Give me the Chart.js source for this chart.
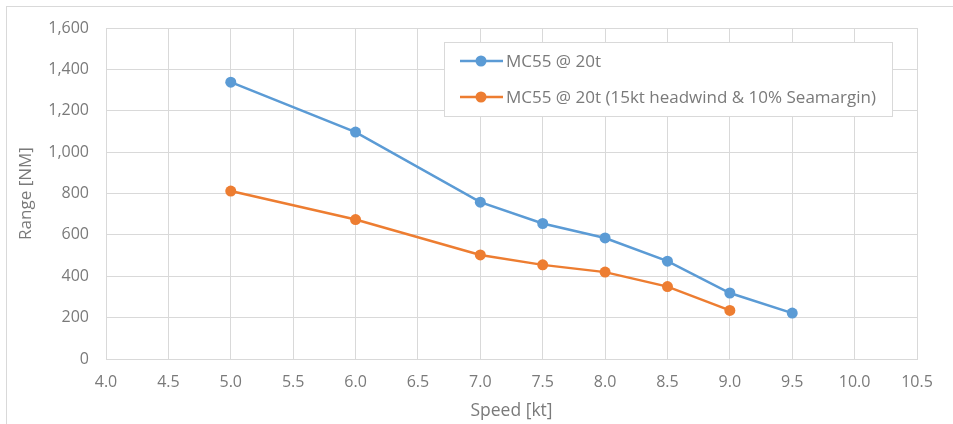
<!DOCTYPE html>
<html>
<head>
<meta charset="utf-8">
<script src="https://cdn.jsdelivr.net/npm/chart.js@4"></script>
<style>
  html, body { margin: 0; padding: 0; background: #fff; }
  #wrap { position: relative; width: 953px; height: 424px; overflow: hidden; }
  #frame { position: absolute; left: 6px; top: 6px; width: 960px; height: 440px; border: 1px solid #d9d9d9; box-sizing: border-box; }
  canvas { position: absolute; left: 0; top: 0; }
</style>
</head>
<body>
<div id="wrap">
  <div id="frame"></div>
  <canvas id="graph" width="953" height="424"></canvas>
</div>
<script>
(function () {
    'use strict'

    const speed = [5.0, 6.0, 7.0, 7.5, 8.0, 8.5, 9.0, 9.5];
    const rangeCalm = [1338, 1097, 758, 655, 585, 473, 319, 222];
    const rangeHeadwind = [812, 674, 503, 455, 420, 350, 235];
    const seriesNames = ['MC55 @ 20t', 'MC55 @ 20t (15kt headwind & 10% Seamargin)'];

    const grey = '#7a7a7a';
    const gridColor = '#d9d9d9';
    const fontFamily = '"Open Sans", "Liberation Sans", sans-serif';

    function points(xs, ys) {
        return ys.map((y, i) => ({ x: xs[i], y: y }));
    }

    // legend box drawn inside the plot, like the office-style chart
    const insideLegend = {
        id: 'insideLegend',
        afterDraw(chart) {
            const ctx = chart.ctx;
            const area = chart.chartArea;
            const x0 = area.left + 338;
            const y0 = area.top + 14;
            const w = 448, h = 74;
            ctx.save();
            ctx.fillStyle = '#fff';
            ctx.fillRect(x0, y0, w, h);
            ctx.strokeStyle = gridColor;
            ctx.lineWidth = 1;
            ctx.strokeRect(x0 + 0.5, y0 + 0.5, w, h);
            ctx.font = '17px ' + fontFamily;
            ctx.textBaseline = 'middle';
            chart.data.datasets.forEach((ds, i) => {
                const cy = y0 + 19 + i * 36;
                ctx.strokeStyle = ds.borderColor;
                ctx.lineWidth = 2.5;
                ctx.beginPath();
                ctx.moveTo(x0 + 16, cy);
                ctx.lineTo(x0 + 59, cy);
                ctx.stroke();
                ctx.fillStyle = ds.backgroundColor;
                ctx.beginPath();
                ctx.arc(x0 + 37, cy, 5.5, 0, Math.PI * 2);
                ctx.fill();
                ctx.fillStyle = grey;
                ctx.fillText(ds.label, x0 + 62, cy + 1);
            });
            ctx.restore();
        }
    };

    let ctx = document.getElementById('graph');
    new Chart(ctx, {
        type: 'line',
        data: {
            datasets: [{
                label: seriesNames[0],
                data: points(speed, rangeCalm),
                borderColor: '#5b9bd5',
                backgroundColor: '#5b9bd5',
                borderWidth: 2.5,
                pointRadius: 5.5,
                pointHoverRadius: 5.5,
                pointBorderWidth: 0
            }, {
                label: seriesNames[1],
                data: points(speed, rangeHeadwind),
                borderColor: '#ed7d31',
                backgroundColor: '#ed7d31',
                borderWidth: 2.5,
                pointRadius: 5.5,
                pointHoverRadius: 5.5,
                pointBorderWidth: 0
            }]
        },
        options: {
            responsive: false,
            animation: false,
            layout: { padding: { top: 28, right: 36, left: 0, bottom: 0 } },
            scales: {
                x: {
                    type: 'linear',
                    min: 4.0,
                    max: 10.5,
                    afterFit(scale) { scale.height = 65; },
                    grid: { color: gridColor, drawTicks: false },
                    border: { color: gridColor },
                    ticks: {
                        stepSize: 0.5,
                        padding: 14,
                        color: grey,
                        font: { family: fontFamily, size: 16 },
                        callback: v => v.toFixed(1)
                    },
                    title: {
                        display: true,
                        text: 'Speed [kt]',
                        color: grey,
                        font: { family: fontFamily, size: 17.5 },
                        padding: { top: 0, bottom: 2 }
                    }
                },
                y: {
                    min: 0,
                    max: 1600,
                    afterFit(scale) { scale.width = 106; },
                    grid: { color: gridColor, drawTicks: false },
                    border: { color: gridColor },
                    ticks: {
                        stepSize: 200,
                        padding: 17,
                        color: grey,
                        font: { family: fontFamily, size: 16 },
                        callback: v => v.toLocaleString('en-US')
                    },
                    title: {
                        display: true,
                        text: 'Range [NM]',
                        color: grey,
                        font: { family: fontFamily, size: 17 },
                        padding: { top: 16, bottom: 0 }
                    }
                }
            },
            plugins: {
                legend: { display: false },
                tooltip: { enabled: false }
            }
        },
        plugins: [insideLegend]
    });
})()
</script>
</body>
</html>
